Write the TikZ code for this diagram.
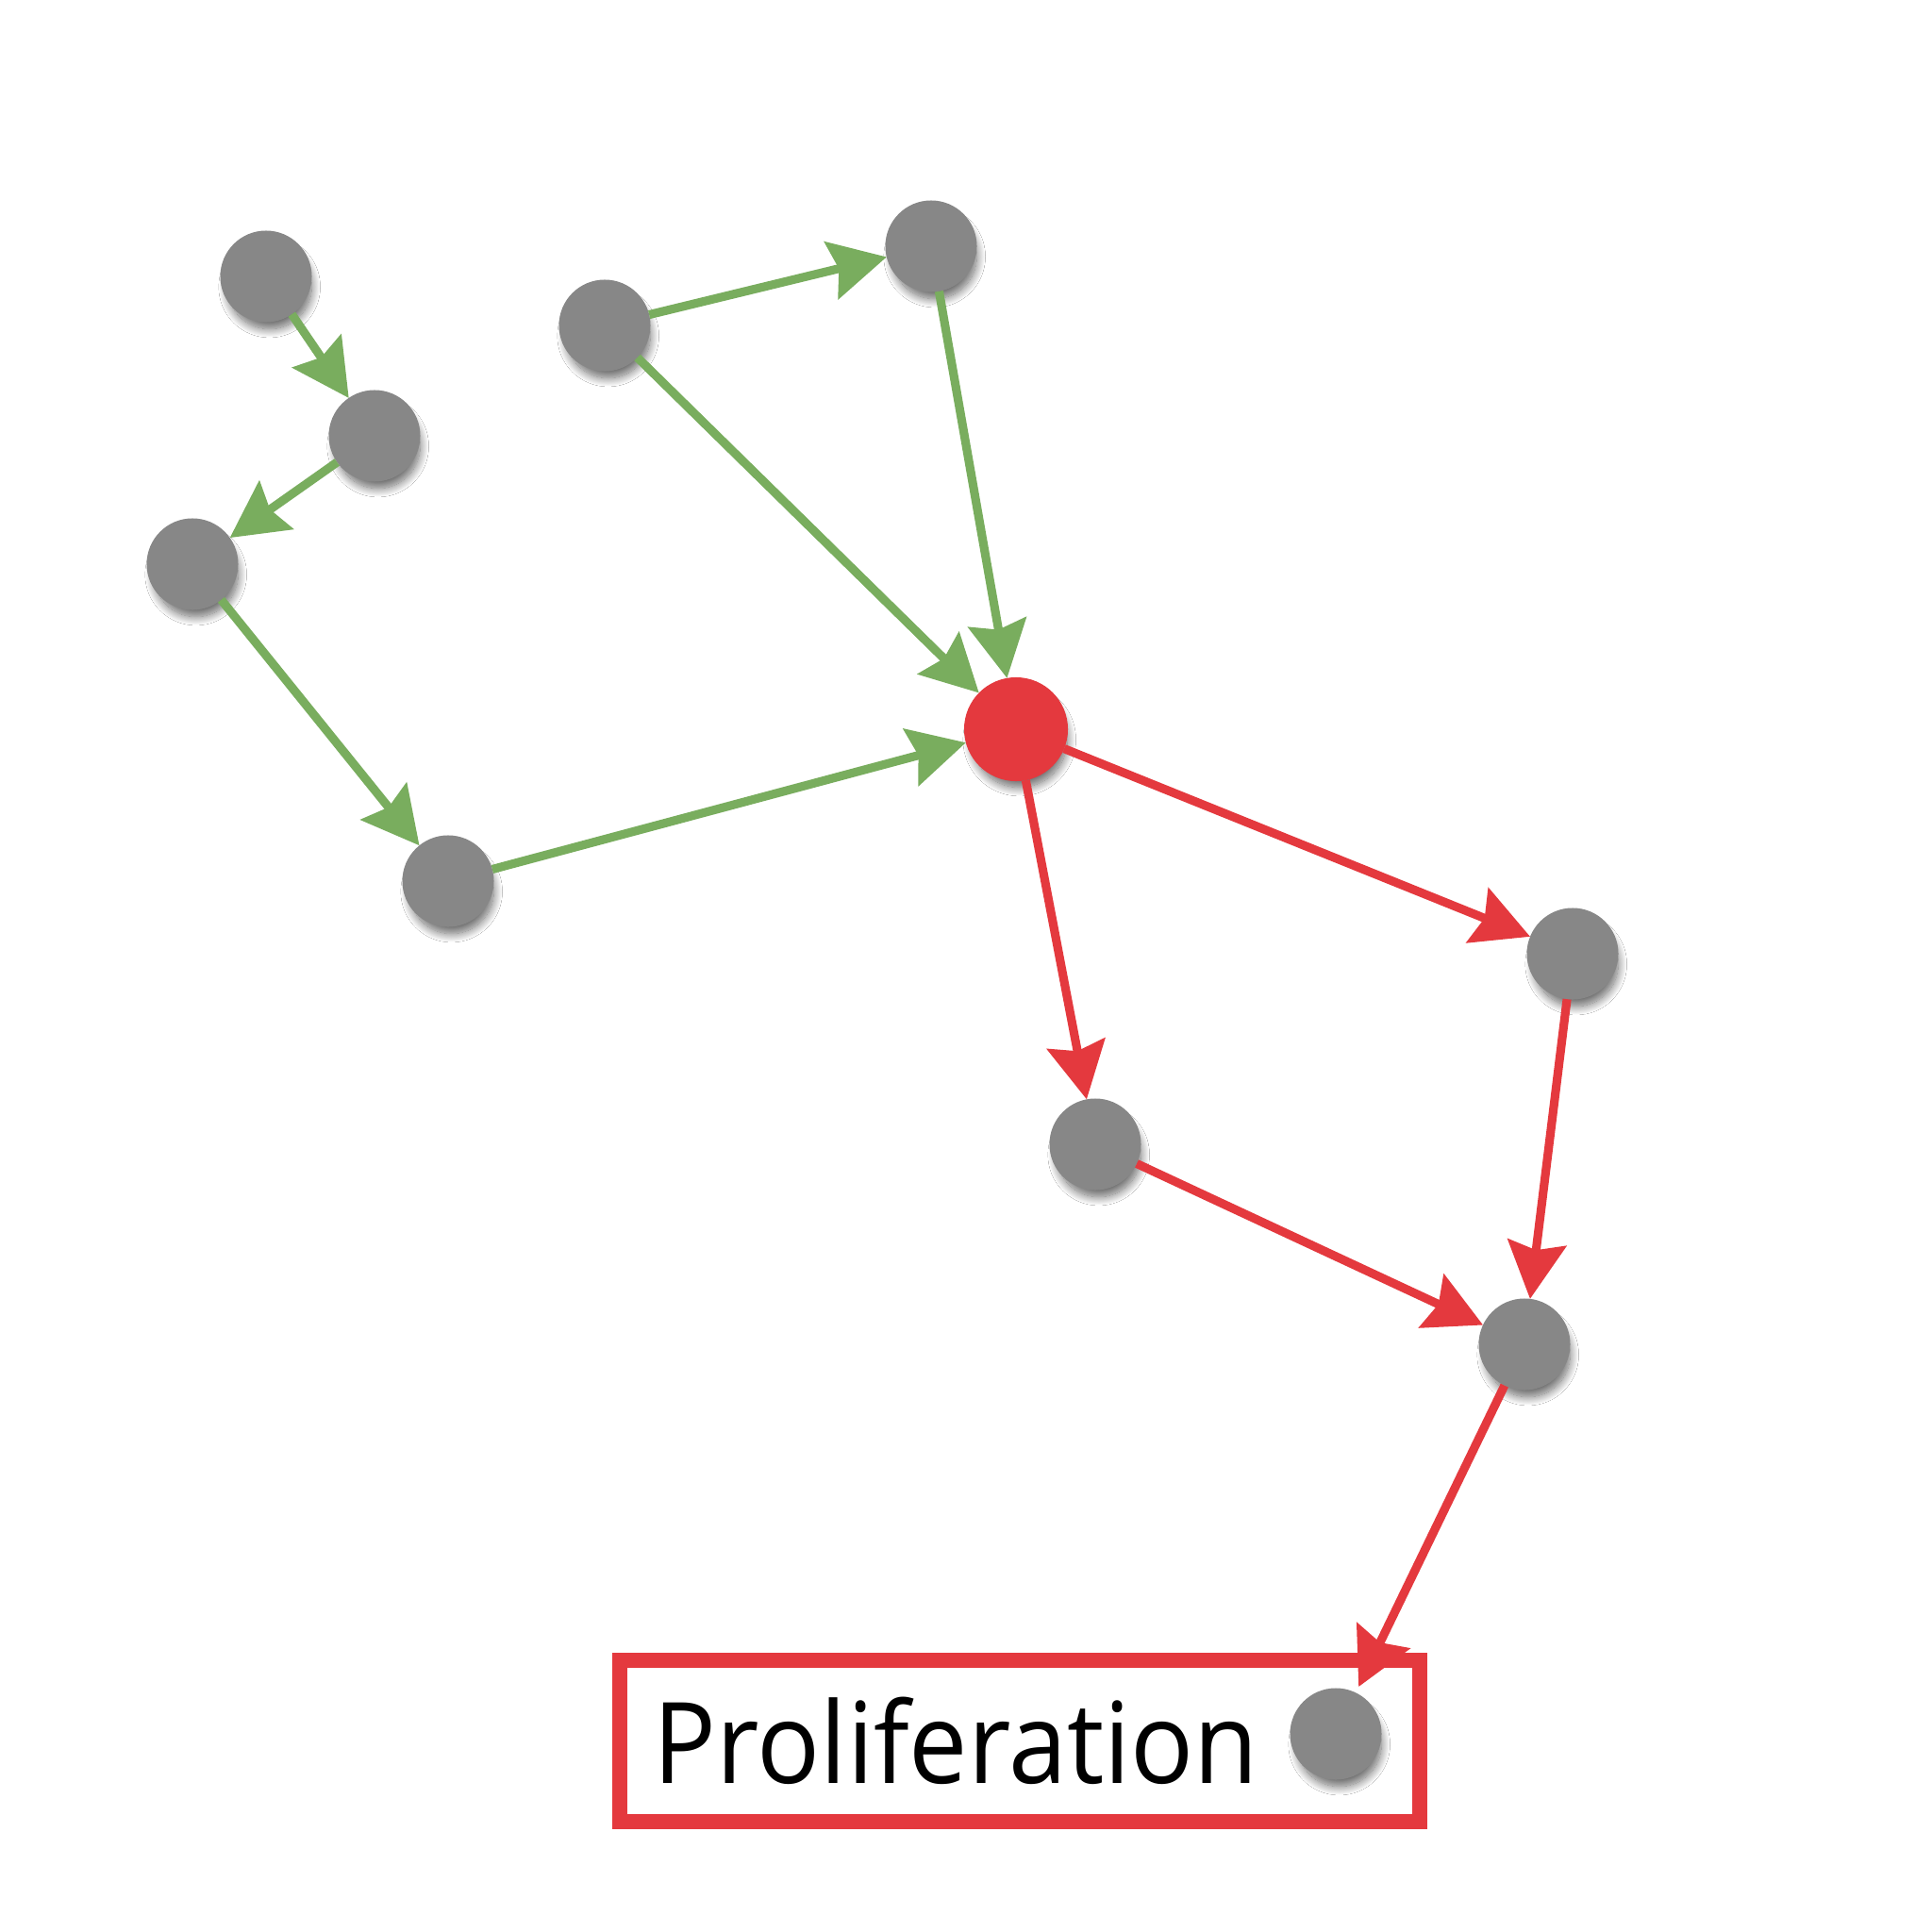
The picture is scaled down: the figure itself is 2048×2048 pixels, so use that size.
\documentclass[tikz,border=0pt]{standalone}
\usepackage{fontspec}
\setmainfont{Open Sans}
\newfontfamily\labelfont[FakeStretch=0.93]{Open Sans}
\usetikzlibrary{arrows.meta,shadows.blur}

\definecolor{nodegray}{RGB}{135,135,135}
\definecolor{hubred}{RGB}{228,57,62}
\definecolor{actgreen}{RGB}{121,173,94}

\tikzset{
  cell/.style={circle, fill=nodegray, minimum size=0.97cm, inner sep=0pt, outer sep=0pt,
    blur shadow={shadow xshift=0.04cm, shadow yshift=-0.12cm, shadow scale=0.92,
      shadow blur radius=0.1cm, shadow blur steps=16, shadow opacity=60}},
  hub/.style={cell, fill=hubred, minimum size=1.1cm},
  greenarrow/.style={draw=actgreen, line width=2.6pt,
    -{Stealth[length=0.6cm, width=0.62cm, inset=0.08cm, fill=actgreen]}},
  redarrow/.style={draw=hubred, line width=2.6pt,
    -{Stealth[length=0.6cm, width=0.62cm, inset=0.08cm, fill=hubred]}},
}

\begin{document}
\begin{tikzpicture}[x=0.01cm, y=-0.01cm]
			%%%%% START %%%%%
			\useasboundingbox[fill=white] (0,0) rectangle (2048,2048);
			
			% cells
			\node[cell] (a) at (282, 293) {};
			\node[cell] (b) at (397, 462) {};
			\node[cell] (c) at (204, 598) {};
			\node[cell] (d) at (475, 934) {};
			\node[cell] (e) at (641, 345) {};
			\node[cell] (f) at (987, 261) {};
			\node[hub]  (hub) at (1077, 773) {};
			\node[cell] (g) at (1667, 1011) {};
			\node[cell] (h) at (1161, 1213) {};
			\node[cell] (i) at (1616, 1425) {};
			
			% box
			\draw[hubred, line width=0.16cm] (657, 1760) rectangle (1505, 1931);
			\node[anchor=base west, inner sep=0pt, font=\labelfont\fontsize{34}{40}\selectfont] (label) at (692, 1890) {Proliferation};
			\node[cell] (out) at (1416, 1838) {};
			
			% green links
			\draw[greenarrow] (a) -- (b);
			\draw[greenarrow] (b) -- (c);
			\draw[greenarrow] (c) -- (d);
			\draw[greenarrow] (d) -- (hub);
			\draw[greenarrow] (e) -- (f);
			\draw[greenarrow] (e) -- (hub);
			\draw[greenarrow] (f) -- (hub);
			
			% red links
			\draw[redarrow] (hub) -- (g);
			\draw[redarrow] (hub) -- (h);
			\draw[redarrow] (g) -- (i);
			\draw[redarrow] (h) -- (i);
			\draw[redarrow, shorten >=2pt] (i) -- (out);
			
			%%%%% END %%%%%
\end{tikzpicture}
\end{document}
